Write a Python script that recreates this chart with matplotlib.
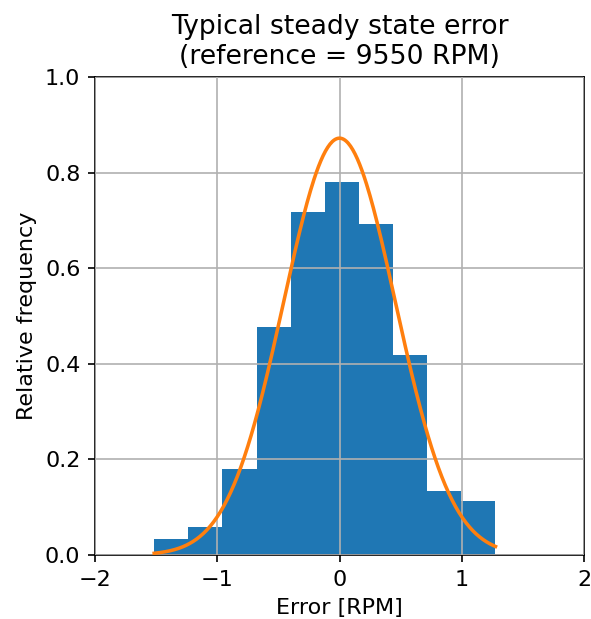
import numpy as np
import matplotlib
matplotlib.use('Agg')
import matplotlib.pyplot as plt

# histogram of steady state error (relative frequency)
bin_edges = np.linspace(-1.516, 1.276, 11)
rel_freq = [0.033, 0.058, 0.179, 0.476, 0.717, 0.780, 0.692, 0.418, 0.133, 0.114]

# fitted normal distribution
mu = 0.0
sigma = 0.4575

plt.rcParams['font.size'] = 10.7

fig = plt.figure(figsize=(591 / 150, 619 / 150), dpi=150)
ax = fig.add_axes([95 / 591, 64 / 619, 489 / 591, 478 / 619])

widths = np.diff(bin_edges)
ax.bar(bin_edges[:-1], rel_freq, width=widths, align='edge', color='C0', zorder=1)

x = np.linspace(bin_edges[0], bin_edges[-1], 300)
pdf = np.exp(-0.5 * ((x - mu) / sigma) ** 2) / (sigma * np.sqrt(2 * np.pi))
ax.plot(x, pdf, color='C1', lw=1.7, zorder=3)

ax.set_xlim(-2, 2)
ax.set_ylim(0, 1)
ax.set_xticks([-2, -1, 0, 1, 2])
ax.set_yticks([0.0, 0.2, 0.4, 0.6, 0.8, 1.0])
ax.grid(True, zorder=2)
ax.set_axisbelow(False)
ax.set_xlabel('Error [RPM]')
ax.set_ylabel('Relative frequency')
ax.set_title('Typical steady state error\n(reference = 9550 RPM)', fontsize=12.8)

fig.savefig('out.png', dpi=150)
